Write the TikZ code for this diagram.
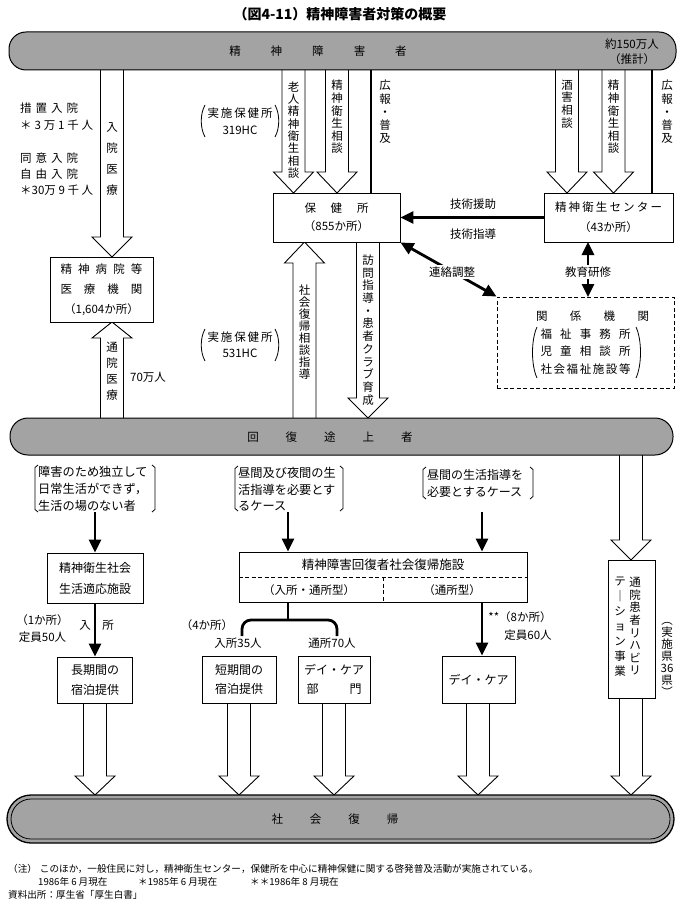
\documentclass[tikz,border=0pt]{standalone}
\usepackage{fontspec}
\setmainfont{Noto Sans CJK JP}
\usepackage{graphicx}
\usetikzlibrary{arrows.meta}
\definecolor{bargray}{RGB}{163,163,163}
\newcommand\fsz[2]{\fontsize{#1}{#2}\selectfont}
\newcommand\holarrow[4]{\draw[hol] (#1-11.5,#2) -- (#1-11.5,#3) -- (#1-20,#3) -- (#1,#4) -- (#1+20,#3) -- (#1+11.5,#3) -- (#1+11.5,#2);}
\newcommand\bropen[3]{\draw[brk] (#1+3,#2) -- (#1,#2+2.5) -- (#1,#3-2.5) -- (#1+3,#3);}
\newcommand\brclose[3]{\draw[brk] (#1-3,#2) -- (#1,#2+2.5) -- (#1,#3-2.5) -- (#1-3,#3);}
\begin{document}
\begin{tikzpicture}[x=1pt,y=-1pt,
  every node/.style={inner sep=0pt,font=\fsz{11.5}{13}},
  box/.style={draw,line width=0.9pt,fill=white,align=center},
  hol/.style={draw,line width=0.9pt,fill=white,line join=miter},
  thk/.style={line width=2.8pt},
  tri/.style={-{Triangle[length=13pt,width=12pt]}},
  tri2/.style={{Triangle[length=13pt,width=12pt]}-{Triangle[length=13pt,width=12pt]}},
  brk/.style={line width=0.8pt},
  bar/.style={draw,line width=1pt,fill=bargray},
  dsh/.style={line width=0.8pt,dash pattern=on 4pt off 2.5pt},
  vt/.style={align=center}]
\useasboundingbox (0,0) rectangle (682,912);
\fill[white] (0,0) rectangle (682,912);
% title
\node[font=\fsz{14}{16}\bfseries] (title) at (340,14) {（図4-11）精神障害者対策の概要};
% hollow arrows
\holarrow{112}{70}{237}{257}
\holarrow{293.5}{70}{172}{193}
\holarrow{337}{70}{172}{193}
\holarrow{567}{70}{172}{193}
\holarrow{613.5}{70}{172}{193}
\holarrow{112}{418}{338}{322}
\holarrow{304.5}{418}{263}{242}
\holarrow{368}{242}{398}{418}
\holarrow{631}{455}{540}{560}
\holarrow{95}{703}{776}{795}
\holarrow{239}{703}{776}{795}
\holarrow{334}{703}{776}{795}
\holarrow{478}{703}{776}{795}
\holarrow{631}{698}{776}{795}
% bars
\node[bar,rounded corners=17pt,minimum width=667pt,minimum height=38pt] (pat) at (342.5,51) {};
\node (patt) at (318,51) {精\hspace{30pt}神\hspace{30pt}障\hspace{30pt}害\hspace{30pt}者};
\node[align=center,font=\fsz{11.5}{15}] (num) at (632,52) {約150万人\\（推計）};
\node[bar,rounded corners=18pt,minimum width=663pt,minimum height=37pt] (rec) at (341.5,436.5) {};
\node (rect) at (330,437) {回\hspace{27pt}復\hspace{27pt}途\hspace{27pt}上\hspace{27pt}者};
\node[bar,line width=1.3pt,rounded corners=24pt,minimum width=667pt,minimum height=48pt] (soc) at (340.5,819) {};
\draw[line width=0.8pt,rounded corners=20pt] (11,799) rectangle (670,839);
\node (soct) at (335,819) {社\hspace{27pt}会\hspace{27pt}復\hspace{27pt}帰};
% vertical texts in arrows
\node[vt,font=\fsz{11.5}{12.3}] (v1) at (293.5,130) {老\\人\\精\\神\\衛\\生\\相\\談};
\node[vt,font=\fsz{11.5}{12.6}] (v2) at (337,117) {精\\神\\衛\\生\\相\\談};
\node[vt,font=\fsz{11.5}{13.2}] (v3) at (385,112) {広\\報\\・\\普\\及};
\node[vt,font=\fsz{11.5}{12.7}] (v4) at (567,104) {酒\\害\\相\\談};
\node[vt,font=\fsz{11.5}{12.6}] (v5) at (613.5,117) {精\\神\\衛\\生\\相\\談};
\node[vt,font=\fsz{11.5}{13.2}] (v6) at (667,112) {広\\報\\・\\普\\及};
\node[vt,font=\fsz{11.5}{20.7}] (v7) at (112,159) {入\\院\\医\\療};
\node[vt,font=\fsz{11.5}{16}] (v8) at (112,371) {通\\院\\医\\療};
\node[vt,font=\fsz{11.5}{12.1}] (v9) at (304.5,332) {社\\会\\復\\帰\\相\\談\\指\\導};
\node[vt,font=\fsz{11.5}{12.7}] (v10) at (368,330) {訪\\問\\指\\導\\・\\患\\者\\ク\\ラ\\ブ\\育\\成};
% left texts
\node[anchor=west] (t1) at (20,108) {\makebox[58pt]{措\hfill 置\hfill 入\hfill 院}};
\node[anchor=west] (t2) at (20,125) {\makebox[73pt]{＊\hfill 3\hfill 万\hfill 1\hfill 千\hfill 人}};
\node[anchor=west] (t3) at (20,158) {\makebox[58pt]{同\hfill 意\hfill 入\hfill 院}};
\node[anchor=west] (t4) at (20,174) {\makebox[58pt]{自\hfill 由\hfill 入\hfill 院}};
\node[anchor=west] (t5) at (20,190) {\makebox[73pt]{＊30万\hfill 9\hfill 千\hfill 人}};
\node[anchor=west] (t6) at (130,377) {70万人};
% health centre notes
\node (h1) at (240,113) {\makebox[65pt]{実\hfill 施\hfill 保\hfill 健\hfill 所}};
\node (h2) at (240,130) {319HC};
\draw[brk] (205,105) .. controls (200,114) and (200,128) .. (205,137);
\draw[brk] (275,105) .. controls (280,114) and (280,128) .. (275,137);
\node (h3) at (240,337) {\makebox[65pt]{実\hfill 施\hfill 保\hfill 健\hfill 所}};
\node (h4) at (240,353) {531HC};
\draw[brk] (205,329) .. controls (200,338) and (200,352) .. (205,361);
\draw[brk] (275,329) .. controls (280,338) and (280,352) .. (275,361);
% boxes
\node[box,minimum width=103pt,minimum height=65pt,font=\fsz{11.5}{20}] (hosp) at (101.5,289.5) {\makebox[82pt]{精\hfill 神\hfill 病\hfill 院\hfill 等}\\\makebox[82pt]{医\hfill 療\hfill 機\hfill 関}\\（1,604か所）};
\node[box,minimum width=127pt,minimum height=49pt,font=\fsz{11.5}{18}] (hoken) at (336.5,217.5) {\makebox[64pt]{保\hfill 健\hfill 所}\\（855か所）};
\node[box,minimum width=129pt,minimum height=49pt,font=\fsz{11.5}{20}] (cent) at (608.5,217.5) {\makebox[107pt]{精\hfill 神\hfill 衛\hfill 生\hfill セ\hfill ン\hfill タ\hfill ー}\\（43か所）};
\node[box,dash pattern=on 4pt off 2.5pt,minimum width=177pt,minimum height=91pt,font=\fsz{11.5}{17.7}] (kan) at (585.5,342.5) {\hspace*{14pt}\makebox[113pt]{関\hfill 係\hfill 機\hfill 関}\\\makebox[90pt]{福\hfill 祉\hfill 事\hfill 務\hfill 所}\\\makebox[90pt]{児\hfill 童\hfill 相\hfill 談\hfill 所}\\\makebox[90pt]{社\hfill 会\hfill 福\hfill 祉\hfill 施\hfill 設\hfill 等}};
\draw[brk] (537,327) .. controls (531,340) and (531,365) .. (537,378);
\draw[brk] (636,327) .. controls (642,340) and (642,365) .. (636,378);
\node[box,minimum width=96pt,minimum height=50pt,font=\fsz{12}{21}] (tek) at (95,578) {精神衛生社会\\生活適応施設};
\node[box,minimum width=75pt,minimum height=46pt,font=\fsz{12}{20}] (cho) at (95,680) {長期間の\\宿泊提供};
\node[box,minimum width=288pt,minimum height=50pt] (sha) at (383,577) {};
\node[font=\fsz{12.5}{14}] (shat) at (383,565) {精神障害回復者社会復帰施設};
\draw[dsh] (sha.west) -- (sha.east);
\draw[dsh] (sha.center) -- (sha.south);
\node (shl) at (309,590) {（入所・通所型）};
\node (shr) at (452,590) {（通所型）};
\node[box,minimum width=74pt,minimum height=47pt,font=\fsz{12}{19}] (tan) at (239,679.5) {短期間の\\宿泊提供};
\node[box,minimum width=72pt,minimum height=47pt,font=\fsz{12}{19}] (dbu) at (334,679.5) {デイ・ケア\\\makebox[55pt]{部\hfill 門}};
\node[box,minimum width=73pt,minimum height=47pt,font=\fsz{12}{19}] (dc) at (478.5,679.5) {デイ・ケア};
\node[box,minimum width=47pt,minimum height=138pt] (reh) at (631.5,629) {};
\node[vt,font=\fsz{11.5}{12.6},anchor=north] (r1) at (635,577) {通\\院\\患\\者\\リ\\ハ\\ビ\\リ};
\node[vt,font=\fsz{11.5}{15},anchor=north] (r2) at (620,577) {テ\\｜\\シ\\ョ\\ン\\事\\業};
\node[vt,font=\fsz{11.5}{12}] (r3) at (667,659) {︵\\実\\施\\県\\36\\県\\︶};
% brackets with cases
\bropen{35}{465}{512}
\brclose{155}{465}{512}
\node[anchor=west,align=left,font=\fsz{12.2}{17}] (q1) at (38,489) {障害のため独立して\\日常生活ができず，\\生活の場のない者};
\bropen{235}{466}{511}
\brclose{343}{466}{511}
\node[anchor=west,align=left,font=\fsz{12.2}{16.5}] (q2) at (238,489.5) {昼間及び夜間の生\\活指導を必要とす\\るケース};
\bropen{423}{467}{499}
\brclose{533}{467}{499}
\node[anchor=west,align=left,font=\fsz{12}{17}] (q3) at (427,483) {昼間の生活指導を\\必要とするケース};
% thick connectors
\coordinate (k1) at (371,70);
\draw[thk] (k1) -- (k1 |- hoken.north);
\coordinate (k2) at (652,70);
\draw[thk] (k2) -- (k2 |- cent.north);
\draw[thk,tri] (cent.west) -- (hoken.east);
\node (g1) at (473,204) {技術援助};
\node (g2) at (473,234) {技術指導};
\draw[thk,tri2] (hoken.south east) -- (kan.north west);
\node[fill=white,inner sep=1.5pt] (g3) at (452,272) {連絡調整};
\coordinate (e1) at (588,242);
\coordinate (e2) at (588,297);
\draw[thk,tri2] (e1) -- (e2);
\node[fill=white,inner sep=1.5pt] (g4) at (588,272) {教育研修};
\coordinate (a1) at (95,512);
\draw[thk,tri] (a1) -- (tek.north);
\draw[thk,tri] (tek.south) -- (cho.north);
\coordinate (a2) at (288,512);
\draw[thk,tri] (a2) -- (a2 |- sha.north);
\coordinate (a3) at (482,512);
\draw[thk,tri] (a3) -- (a3 |- sha.north);
\coordinate (a4) at (482,602);
\draw[thk,tri] (a4) -- (a4 |- dc.north);
\coordinate (f0) at (288,602);
\coordinate (fm) at (288,620);
\coordinate (fl) at (242,636);
\coordinate (fr) at (337,636);
\draw[thk] (f0) -- (fm);
\draw[thk,rounded corners=9pt] (fl) -- (fl |- fm) -- (fr |- fm) -- (fr);
% small labels
\node (l1) at (42.5,620) {（1か所）};
\node (l2) at (42.5,637) {定員50人};
\node (l3) at (85,625) {入};
\node (l4) at (108,625) {所};
\node (l5) at (207,625) {（4か所）};
\node (l6) at (238,643) {入所35人};
\node (l7) at (332,643) {通所70人};
\node (l8) at (520,617) {**（8か所）};
\node (l9) at (528,635) {定員60人};
% notes
\node[anchor=west,font=\fsz{9.6}{12}] (n1) at (8,869) {（注）\hspace{3pt}このほか，一般住民に対し，精神衛生センター，保健所を中心に精神保健に関する啓発普及活動が実施されている。};
\node[anchor=west,font=\fsz{9.6}{12}] (n2) at (38,882) {1986年 6 月現在};
\node[anchor=west,font=\fsz{9.6}{12}] (n3) at (138,882) {＊1985年 6 月現在};
\node[anchor=west,font=\fsz{9.6}{12}] (n4) at (250,882) {＊＊1986年 8 月現在};
\node[anchor=west,font=\fsz{9.6}{12}] (n5) at (8,895) {資料出所：厚生省「厚生白書」};
\end{tikzpicture}
\end{document}
